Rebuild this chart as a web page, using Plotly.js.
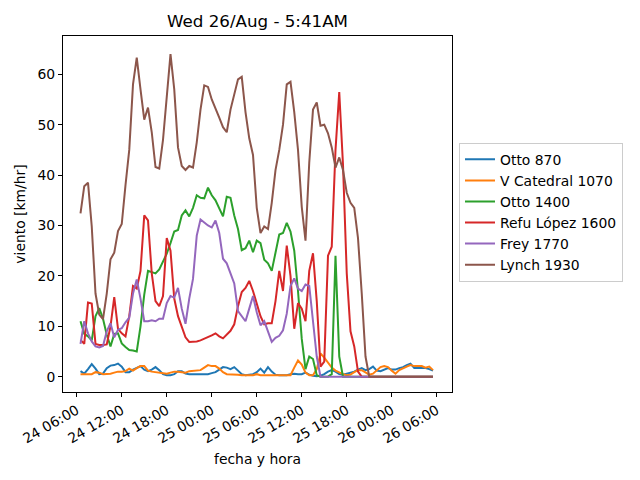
<!DOCTYPE html>
<html>
<head>
<meta charset="utf-8">
<script src="https://cdn.plot.ly/plotly-3.0.1.min.js"></script>
<style>
	body { margin: 0; padding: 0; background: #fff; }
	#plot { width: 640px; height: 480px; }
</style>
</head>
<body>
<div id="plot"></div>
<script>
// readings every 30 min, from 24/Aug 06:30 to 26/Aug 05:30
var startTime = '2020-08-24T06:30:00';
var stepMinutes = 30;

var stationNames = ['Otto 870', 'V Catedral 1070', 'Otto 1400', 'Refu López 1600', 'Frey 1770', 'Lynch 1930'];
var stationColors = ['#1f77b4', '#ff7f0e', '#2ca02c', '#d62728', '#9467bd', '#8c564b'];

var otto870 = [1.1, 0.6, 1.5, 2.5, 1.6, 0.5, 0.6, 1.7, 2.2, 2.3, 2.6, 2.0, 0.9, 0.9, 1.4, 1.7,
	2.1, 1.4, 1.1, 1.4, 1.9, 1.3, 0.5, 0.3, 0.3, 0.5, 1.1, 1.1, 0.6, 0.5, 0.5, 0.5,
	0.5, 0.5, 0.5, 0.7, 0.9, 1.4, 1.9, 1.8, 1.5, 1.9, 1.1, 0.5, 0.3, 0.4, 0.5, 0.9,
	1.6, 0.8, 1.9, 1.0, 0.4, 0.3, 0.3, 0.3, 0.5, 0.6, 0.5, 0.5, 0.8, 0.4, 0.2, 0.1,
	0.2, 0.5, 1.0, 1.3, 1.0, 0.5, 0.4, 0.6, 0.9, 1.0, 1.4, 1.7, 1.3, 1.5, 2.0, 1.2,
	1.1, 1.4, 1.7, 1.4, 1.4, 1.7, 1.9, 2.3, 2.6, 1.7, 1.7, 1.7, 1.7, 1.5, 1.2];

var vCatedral1070 = [0.5, 0.5, 0.5, 0.5, 0.9, 0.8, 0.5, 0.5, 0.6, 0.8, 1.0, 1.0, 1.1, 1.6, 1.2, 1.7,
	2.1, 2.1, 1.2, 1.0, 0.9, 0.8, 0.7, 0.6, 0.8, 1.0, 1.0, 0.9, 0.8, 1.1, 1.2, 1.2,
	1.3, 1.8, 2.3, 2.1, 2.1, 1.6, 0.9, 0.5, 0.5, 0.5, 0.4, 0.3, 0.3, 0.3, 0.3, 0.5,
	0.3, 0.3, 0.3, 0.3, 0.3, 0.3, 0.3, 0.3, 0.3, 1.8, 3.2, 2.4, 0.8, 0.3, 0.3, 1.5,
	4.6, 3.8, 2.8, 1.8, 1.2, 0.8, 0.5, 0.3, 0.4, 0.9, 1.3, 1.3, 0.8, 0.4, 0.6, 1.3,
	1.9, 2.1, 1.9, 1.2, 0.6, 1.3, 1.7, 2.0, 2.3, 2.1, 2.1, 2.1, 1.8, 2.0, 1.3];

var otto1400 = [11.0, 8.5, 8.0, 7.2, 12.0, 13.6, 11.5, 8.3, 6.0, 8.5, 8.6, 6.6, 5.9, 5.3, 5.2, 5.0,
	10.0, 16.3, 21.0, 20.7, 20.5, 21.3, 23.0, 24.4, 26.5, 28.8, 29.1, 32.0, 33.0, 31.8, 33.5, 36.0,
	35.5, 35.4, 37.5, 36.0, 35.0, 33.3, 31.8, 35.7, 35.5, 32.0, 29.3, 25.1, 25.5, 27.0, 24.7, 27.0,
	26.5, 23.2, 22.5, 21.0, 25.0, 28.2, 28.5, 30.5, 28.8, 25.0, 17.0, 7.5, 1.5, 4.0, 3.5, 0.3,
	0, 0, 0, 0.5, 24.0, 4.0, 0, 0, 0, 0, 0, 0, 0, 0, 0, 0,
	0, 0, 0, 0, 0, 0, 0, 0, 0, 0, 0, 0, 0, 0, 0];

var refuLopez1600 = [7.3, 6.5, 14.7, 14.5, 6.5, 6.3, 6.3, 6.4, 10.0, 15.8, 9.5, 8.6, 8.0, 12.0, 18.0, 17.5,
	21.0, 32.0, 31.0, 20.5, 15.0, 14.0, 16.0, 27.5, 25.0, 15.5, 12.0, 9.9, 7.8, 6.9, 6.9, 7.0,
	7.2, 7.5, 7.8, 8.2, 8.6, 8.0, 7.6, 8.3, 9.1, 10.4, 14.0, 16.8, 17.6, 19.0, 17.0, 14.5,
	12.0, 10.4, 10.6, 10.6, 15.0, 21.0, 17.0, 26.0, 20.0, 9.5, 14.6, 13.5, 11.0, 21.0, 24.5, 15.0,
	2.0, 3.0, 24.0, 25.8, 45.0, 56.5, 42.0, 20.5, 9.0, 6.0, 1.0, 0, 0, 0, 0, 0,
	0, 0, 0, 0, 0, 0, 0, 0, 0, 0, 0, 0, 0, 0, 0];

var frey1770 = [6.5, 11.0, 8.6, 7.0, 6.0, 5.8, 6.1, 9.0, 10.6, 7.8, 9.3, 9.6, 10.8, 11.7, 16.5, 19.3,
	15.5, 11.0, 11.0, 11.2, 11.0, 11.5, 11.5, 14.6, 16.0, 15.7, 17.6, 13.5, 10.5, 15.5, 19.4, 28.0,
	31.2, 30.5, 30.0, 29.6, 31.0, 28.5, 23.4, 22.5, 20.5, 18.5, 13.0, 11.9, 11.0, 13.5, 16.0, 12.8,
	10.2, 11.0, 8.8, 6.9, 7.7, 8.1, 9.2, 12.5, 18.0, 19.5, 17.5, 17.0, 18.3, 18.0, 11.0, 4.0,
	0, 0, 0, 0, 0, 0, 0, 0, 0, 0, 0, 0, 0, 0, 0, 0,
	0, 0, 0, 0, 0, 0, 0, 0, 0, 0, 0, 0, 0, 0, 0];

var lynch1930 = [32.4, 37.8, 38.5, 29.8, 16.5, 12.3, 11.4, 16.5, 23.3, 24.6, 28.9, 30.3, 38.0, 45.0, 58.0, 63.3,
	57.0, 51.0, 53.4, 48.5, 41.6, 41.3, 47.0, 56.0, 64.0, 57.0, 45.5, 41.8, 41.0, 41.8, 41.5, 46.5,
	53.0, 57.8, 57.5, 55.0, 53.3, 51.4, 49.5, 48.5, 53.0, 55.8, 59.0, 59.5, 52.5, 47.3, 44.0, 33.5,
	28.5, 29.8, 29.3, 34.5, 41.0, 45.0, 50.0, 58.0, 58.5, 52.5, 45.0, 33.7, 27.0, 42.5, 53.0, 54.4,
	49.8, 50.0, 48.3, 45.5, 41.5, 43.5, 41.0, 36.5, 34.5, 33.5, 27.5, 16.5, 4.0, 0, 0, 0,
	0, 0, 0, 0, 0, 0, 0, 0, 0, 0, 0, 0, 0, 0, 0];

var stationValues = [otto870, vCatedral1070, otto1400, refuLopez1600, frey1770, lynch1930];

var tickFont = 'DejaVu Sans, sans-serif';

function makeTimes(n) {
	var t0 = new Date(startTime + 'Z').getTime();
	var out = [];
	for (var i = 0; i < n; i++) {
		var d = new Date(t0 + i * stepMinutes * 60000);
		out.push(d.toISOString().slice(0, 19).replace('T', ' '));
	}
	return out;
}

function drawChart() {
	var data = [];

	for (var i = 0; i < stationNames.length; i++) {
		data.push({
			x: makeTimes(stationValues[i].length),
			y: stationValues[i],
			name: stationNames[i],
			mode: 'lines',
			line: {
				color: stationColors[i],
				width: 2
			}
		});
	}

	var layout = {
		autosize: false,
		width: 640,
		height: 480,
		hovermode: false,
		showlegend: true,
		paper_bgcolor: '#ffffff',
		plot_bgcolor: '#ffffff',
		margin: {
			l: 63,
			r: 188,
			t: 36,
			b: 88
		},
		font: {
			family: tickFont,
			size: 13.9,
			color: '#000000'
		},
		title: {
			text: 'Wed 26/Aug - 5:41AM',
			font: { family: tickFont, size: 16.7, color: '#000000' },
			x: 0.5,
			xref: 'paper',
			xanchor: 'center',
			y: 1 - 21 / 480,
			yanchor: 'middle'
		},
		legend: {
			x: 1.018,
			xanchor: 'left',
			y: 0.70,
			yanchor: 'top',
			bordercolor: '#cccccc',
			borderwidth: 1,
			bgcolor: '#ffffff',
			font: { family: tickFont, size: 13.9 }
		},
		xaxis: {
			type: 'date',
			autorange: false,
			range: ['2020-08-24 04:10', '2020-08-26 08:02'],
			tick0: '2020-08-24 00:00',
			dtick: 6 * 3600 * 1000,
			tickformat: '%d %H:%M',
			tickangle: -30,
			ticks: 'outside',
			ticklen: 4,
			tickcolor: '#000000',
			showgrid: false,
			zeroline: false,
			showline: true,
			mirror: true,
			linecolor: '#000000',
			linewidth: 1,
			title: {
				text: 'fecha y hora',
				font: { family: tickFont, size: 13.9 },
				standoff: 8
			}
		},
		yaxis: {
			autorange: false,
			range: [-3.04, 67.6],
			tick0: 0,
			dtick: 10,
			ticks: 'outside',
			ticklen: 4,
			tickcolor: '#000000',
			showgrid: false,
			zeroline: false,
			showline: true,
			mirror: true,
			linecolor: '#000000',
			linewidth: 1,
			title: {
				text: 'viento [km/hr]',
				font: { family: tickFont, size: 13.9 },
				standoff: 8
			}
		}
	};

	Plotly.newPlot('plot', data, layout, { staticPlot: true });
}

drawChart();
</script>
</body>
</html>
